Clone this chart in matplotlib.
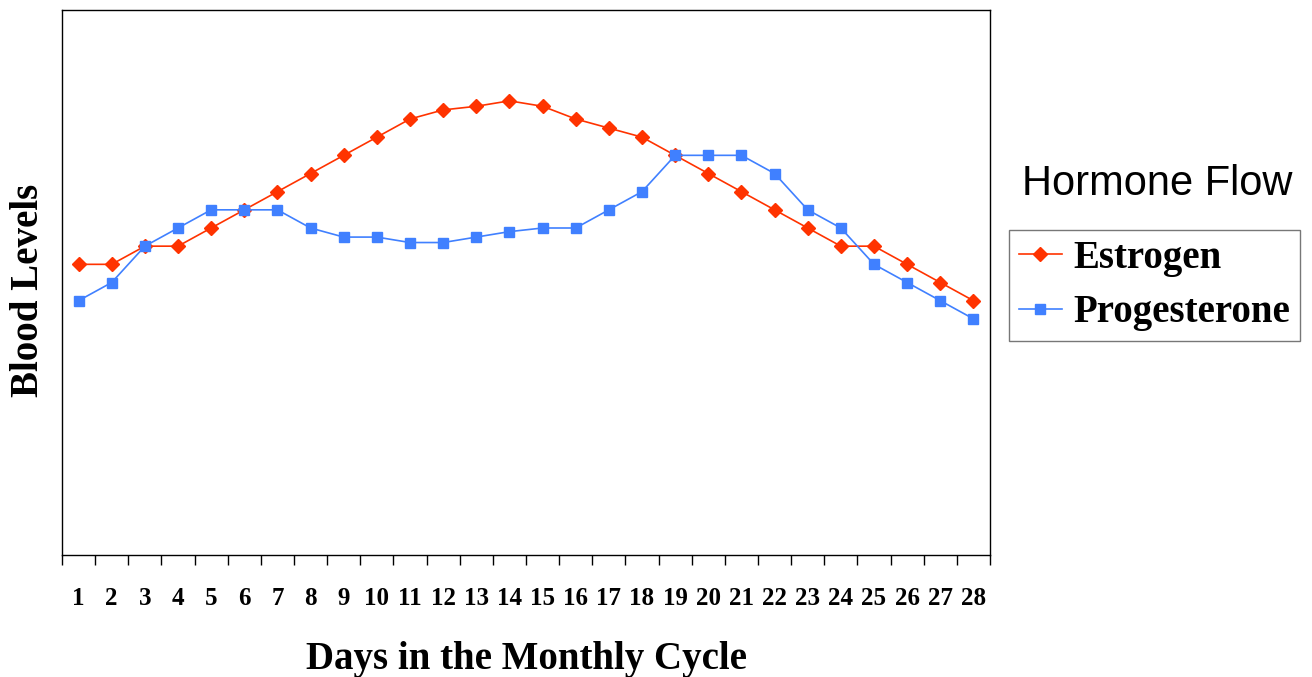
import matplotlib.pyplot as plt
from matplotlib.ticker import FixedLocator, NullFormatter

days = list(range(1, 29))
estrogen = [16, 16, 17, 17, 18, 19, 20, 21, 22, 23, 24, 24.5, 24.7, 25,
            24.7, 24, 23.5, 23, 22, 21, 20, 19, 18, 17, 17, 16, 15, 14]
progesterone = [14, 15, 17, 18, 19, 19, 19, 18, 17.5, 17.5, 17.2, 17.2, 17.5, 17.8,
                18, 18, 19, 20, 22, 22, 22, 21, 19, 18, 16, 15, 14, 13]

serif = ['Liberation Serif', 'DejaVu Serif']
sans = ['Liberation Sans', 'DejaVu Sans']

fig = plt.figure(figsize=(13.12, 6.77), dpi=100)
ax = fig.add_axes([62 / 1312, 1 - 555 / 677, 928 / 1312, 545 / 677])

ax.plot(days, estrogen, color='#ff3300', lw=1.2, marker='D', ms=7.5,
        label='Estrogen')
ax.plot(days, progesterone, color='#4080ff', lw=1.2, marker='s', ms=7,
        label='Progesterone')

ax.set_xlim(0.5, 28.5)
ax.set_ylim(0, 30)
ax.set_yticks([])

# tick marks at the category boundaries, labels at the centres
ax.xaxis.set_major_locator(FixedLocator([d + 0.5 for d in [0] + days]))
ax.xaxis.set_major_formatter(NullFormatter())
ax.xaxis.set_minor_locator(FixedLocator(days))
ax.set_xticklabels([str(d) for d in days], minor=True,
                   fontfamily=serif, fontweight='bold', fontsize=18)
ax.tick_params(axis='x', which='major', length=7, width=1, direction='out')
ax.tick_params(axis='x', which='minor', length=0, pad=23)

for s in ax.spines.values():
    s.set_color('black')
    s.set_linewidth(1)

ax.set_xlabel('Days in the Monthly Cycle', fontfamily=serif, fontweight='bold',
              fontsize=28, labelpad=22)
ax.set_ylabel('Blood Levels', fontfamily=serif, fontweight='bold',
              fontsize=28, va='center')
ax.yaxis.set_label_coords(-0.036, 0.486)

fig.text(1157 / 1312, 1 - 184 / 677, 'Hormone Flow', fontfamily=sans,
         fontsize=30, ha='center', va='center')
leg = fig.legend(loc='upper left', bbox_to_anchor=(1009 / 1312, 1 - 230 / 677),
                 prop={'family': serif, 'weight': 'bold', 'size': 28},
                 frameon=True, fancybox=False, edgecolor='#555555',
                 handlelength=1.1, handletextpad=0.3, borderpad=0.25,
                 borderaxespad=0, labelspacing=0.45)
leg.get_frame().set_linewidth(1)

fig.savefig('out.png', dpi=100)
